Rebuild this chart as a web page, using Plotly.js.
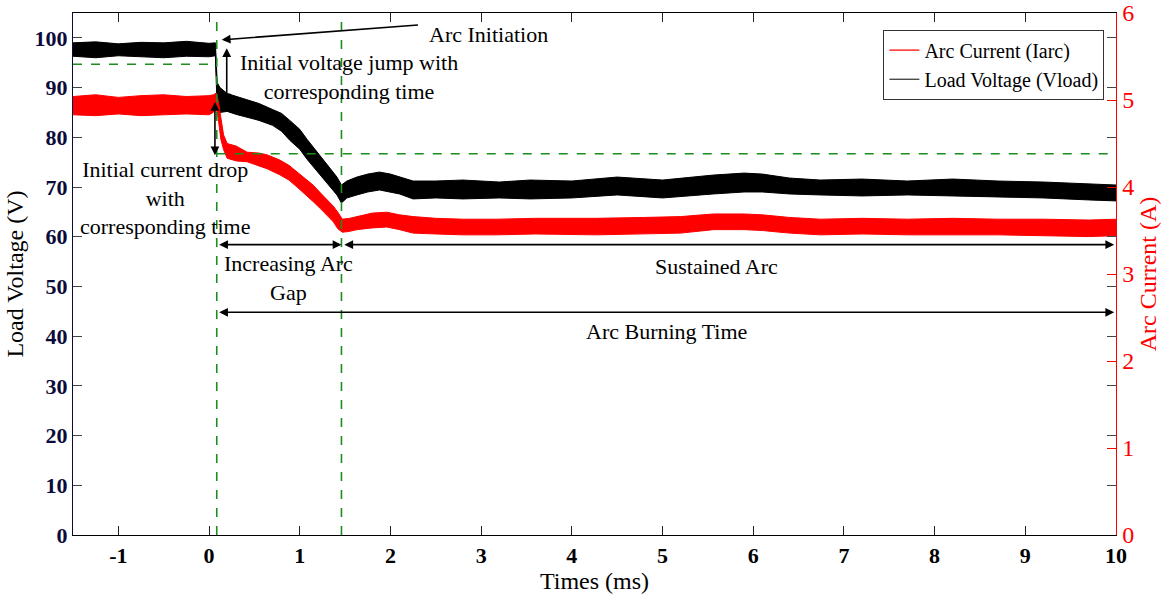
<!DOCTYPE html>
<html>
<head>
<meta charset="utf-8">
<script src="https://cdn.plot.ly/plotly-3.0.1.min.js"></script>
<style>html,body{margin:0;padding:0;background:#fff;}#chart{width:1170px;height:601px;}</style>
</head>
<body>
<div id="chart"></div>
<script>
// ---- Load voltage (V), envelope of the noisy band ----
const tV = [-1.5,-1.25,-1.0,-0.75,-0.5,-0.25,0,0.07,0.09,0.12,0.2,0.3,0.42,0.55,0.7,0.8,0.89,1.0,1.08,1.17,1.26,1.35,1.41,1.46,1.52,1.63,1.75,1.88,2.0,2.1,2.25,2.5,2.8,3.2,3.54,4.0,4.5,5.0,5.56,5.9,6.1,6.4,6.74,7.2,7.7,8.2,8.7,9.2,9.7,10];
const vUpper = [99.0,99.2,98.8,99.1,99.0,99.3,98.9,99.0,91.0,90.0,88.8,88.2,87.6,86.8,85.6,84.8,83.4,81.6,79.6,77.6,75.6,73.4,72.0,70.4,71.2,72.0,72.6,73.0,72.6,72.0,71.2,71.2,71.4,71.0,71.4,71.2,72.0,71.4,72.4,72.8,72.6,71.8,71.4,71.6,71.2,71.6,71.2,71.0,70.6,70.4];
const vLower = [96.3,96.0,96.4,96.2,96.0,96.3,96.2,96.4,85.5,85.0,85.2,84.6,84.0,83.4,82.4,81.2,79.4,77.6,75.6,73.6,71.6,69.6,68.4,66.8,67.8,68.4,69.0,69.4,69.0,68.6,67.6,67.8,67.6,67.8,67.6,67.8,68.4,67.8,68.6,69.0,69.0,68.6,68.4,68.2,68.4,68.2,68.0,67.8,67.4,67.2];
const vMid   = [97.6,97.5,97.6,97.6,97.5,97.8,97.5,97.7,88.2,87.5,87.0,86.4,85.8,85.1,84.0,83.0,81.4,79.6,77.6,75.6,73.6,71.5,70.2,68.6,69.5,70.2,70.8,71.2,70.8,70.3,69.4,69.5,69.5,69.4,69.5,69.5,70.2,69.6,70.5,70.9,70.8,70.2,69.9,69.9,69.8,69.9,69.6,69.4,69.0,68.8];

// ---- Arc current (A), envelope of the noisy band ----
const tI = [-1.5,-1.25,-1.0,-0.75,-0.5,-0.25,0,0.05,0.08,0.1,0.13,0.16,0.2,0.3,0.42,0.55,0.64,0.78,0.88,0.97,1.06,1.15,1.23,1.3,1.37,1.42,1.47,1.55,1.63,1.8,1.96,2.1,2.25,2.5,2.8,3.17,3.6,4.27,4.8,5.2,5.56,5.9,6.1,6.4,6.74,7.2,7.7,8.2,8.7,9.2,9.7,10];
const iUpper = [5.04,5.06,5.03,5.05,5.06,5.04,5.05,5.06,5.08,5.00,4.80,4.60,4.50,4.47,4.40,4.39,4.37,4.31,4.25,4.17,4.10,4.02,3.93,3.86,3.78,3.71,3.63,3.64,3.66,3.70,3.71,3.68,3.66,3.64,3.63,3.63,3.64,3.64,3.65,3.66,3.69,3.69,3.68,3.65,3.63,3.64,3.63,3.64,3.63,3.63,3.62,3.63];
const iLower = [4.83,4.82,4.84,4.82,4.83,4.84,4.83,4.86,4.90,4.80,4.55,4.43,4.33,4.30,4.29,4.24,4.21,4.14,4.08,4.00,3.92,3.83,3.75,3.68,3.60,3.52,3.48,3.49,3.51,3.53,3.54,3.51,3.47,3.46,3.45,3.45,3.46,3.45,3.46,3.47,3.51,3.51,3.50,3.47,3.45,3.46,3.45,3.45,3.45,3.44,3.43,3.44];
const iMid   = [4.94,4.94,4.93,4.94,4.95,4.94,4.94,4.96,4.99,4.90,4.68,4.52,4.42,4.39,4.35,4.32,4.29,4.23,4.17,4.09,4.01,3.93,3.84,3.77,3.69,3.62,3.56,3.57,3.59,3.62,3.63,3.60,3.57,3.55,3.54,3.54,3.55,3.55,3.56,3.57,3.60,3.60,3.59,3.56,3.54,3.55,3.54,3.55,3.54,3.54,3.53,3.54];

// ---- axis ticks ----
const xTicks = [-1,0,1,2,3,4,5,6,7,8,9,10];
const yTicks = [0,10,20,30,40,50,60,70,80,90,100];
const y2Ticks = [0,1,2,3,4,5,6];

const SERIF = '"Liberation Serif","Times New Roman",serif';
const RED = '#ff0000';

function band(t, lo, hi, color, axis){
  return [
    {x:t, y:lo, yaxis:axis, mode:'lines', line:{color:color, width:1}, showlegend:false, hoverinfo:'skip'},
    {x:t, y:hi, yaxis:axis, mode:'lines', line:{color:color, width:1}, fill:'tonexty', fillcolor:color, showlegend:false, hoverinfo:'skip'}
  ];
}

const traces = [
  ...band(tI, iLower, iUpper, RED, 'y2'),
  {x:tI, y:iMid, yaxis:'y2', mode:'lines', line:{color:RED, width:1.2}, name:'Arc Current (Iarc)'},
  ...band(tV, vLower, vUpper, '#000000', 'y'),
  {x:tV, y:vMid, yaxis:'y', mode:'lines', line:{color:'#000000', width:1}, name:'Load Voltage (Vload)'}
];

const green = {color:'#1e8c1e', width:1.6, dash:'dash'};
const shapes = [
  {type:'line', xref:'x', yref:'y', x0:0.085, x1:0.085, y0:0, y1:105, line:green},
  {type:'line', xref:'x', yref:'y', x0:1.46, x1:1.46, y0:0, y1:105, line:green},
  {type:'line', xref:'x', yref:'y', x0:-1.5, x1:0.085, y0:94.7, y1:94.7, line:green},
  {type:'line', xref:'x', yref:'y', x0:0.085, x1:10, y0:76.7, y1:76.7, line:green}
];

const tf = {family:SERIF, size:22, color:'#000'};
function arrow(x0,y0,x1,y1,both){
  return {x:x1, y:y1, ax:x0, ay:y0, xref:'x', yref:'y', axref:'x', ayref:'y', text:'', showarrow:true,
          arrowhead:2, arrowsize:1.1, arrowwidth:1.6, arrowcolor:'#000', standoff:0, startstandoff:0,
          startarrowhead:2, startarrowsize:1.1, arrowside: both ? 'end+start' : 'end'};
}
function label(x,y,text){
  return {x:x, y:y, xref:'x', yref:'y', text:text, showarrow:false, font:tf, align:'center'};
}
const annotations = [
  arrow(2.32, 102.6, 0.14, 99.6, false),
  label(3.08, 100.6, 'Arc Initiation'),
  arrow(0.195, 98.2, 0.195, 87.0, true),
  label(1.54, 92.2, 'Initial voltage jump with<br>corresponding time'),
  arrow(0.065, 87.4, 0.065, 76.4, true),
  label(-0.49, 67.8, 'Initial current drop<br>with<br>corresponding time'),
  arrow(0.095, 58.4, 1.46, 58.4, true),
  label(0.88, 51.6, 'Increasing Arc<br>Gap'),
  arrow(1.475, 58.4, 9.98, 58.4, true),
  label(5.59, 54.0, 'Sustained Arc'),
  arrow(0.095, 44.8, 9.98, 44.8, true),
  label(5.04, 41.0, 'Arc Burning Time')
];

const layout = {
  width:1170, height:601,
  margin:{l:73, r:54, t:13, b:66},
  paper_bgcolor:'#fff', plot_bgcolor:'#fff',
  font:{family:SERIF, color:'#000'},
  showlegend:true,
  legend:{x:0.777, y:0.968, xanchor:'left', yanchor:'top', bordercolor:'#333', borderwidth:1,
          traceorder:'normal',
          bgcolor:'#fff', font:{family:SERIF, size:20, color:'#000'}, tracegroupgap:0, itemwidth:30},
  xaxis:{range:[-1.5,10], tickvals:xTicks, ticktext:xTicks.map(String), ticks:'inside', ticklen:9,
         tickcolor:'#222', showline:true, linecolor:'#000', linewidth:1.2, mirror:'ticks',
         showgrid:false, zeroline:false,
         tickfont:{family:SERIF, size:22, color:'#000', weight:'bold'},
         title:{text:'Times (ms)', font:{family:SERIF, size:24, color:'#000'}, standoff:4}},
  yaxis:{range:[0,105], tickvals:yTicks, ticks:'inside', ticklen:9, tickcolor:'#444',
         showline:true, linecolor:'#0b0b3b', linewidth:1.2, mirror:'ticks', showgrid:false, zeroline:false,
         tickfont:{family:SERIF, size:22, color:'#0b0b3b', weight:'bold'},
         title:{text:'Load Voltage (V)', font:{family:SERIF, size:24, color:'#000'}, standoff:4}},
  yaxis2:{range:[0,6], tickvals:y2Ticks, overlaying:'y', side:'right', ticks:'inside', ticklen:9,
          tickcolor:RED, showline:true, linecolor:RED, linewidth:1.4, showgrid:false, zeroline:false,
          ticklabeloverflow:'allow',
          tickfont:{family:SERIF, size:24, color:RED},
          title:{text:'Arc Current (A)', font:{family:SERIF, size:24, color:RED}, standoff:6}},
  shapes:shapes,
  annotations:annotations
};

Plotly.newPlot('chart', traces, layout, {displayModeBar:false, staticPlot:true});
</script>
</body>
</html>
